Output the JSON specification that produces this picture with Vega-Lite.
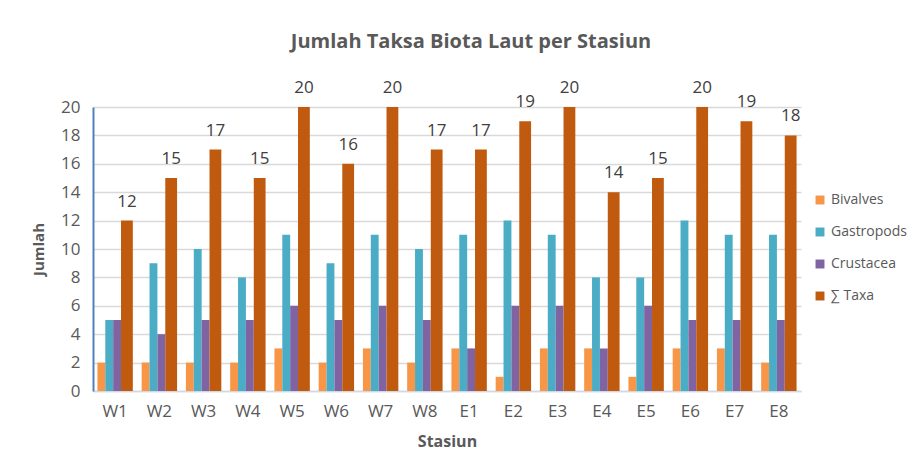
{
  "$schema": "https://vega.github.io/schema/vega-lite/v6.json",
  "width": 708,
  "height": 284,
  "autosize": {"type": "none"},
  "padding": {"left": 93, "top": 107, "right": 121, "bottom": 75},
  "background": "white",
  "config": {
    "font": "Open Sans",
    "view": {"stroke": null},
    "axis": {"labelColor": "#595959", "titleColor": "#595959", "labelFont": "Open Sans", "titleFont": "Open Sans"}
  },
  "title": {
    "text": "Jumlah Taksa Biota Laut per Stasiun",
    "fontSize": 20,
    "fontWeight": "bold",
    "color": "#595959",
    "font": "Open Sans",
    "anchor": "middle",
    "frame": "group",
    "dx": 24,
    "offset": 27
  },
  "data": {
    "values": [
      {"stasiun": "W1", "series": "Bivalves", "value": 2}, {"stasiun": "W1", "series": "Gastropods", "value": 5}, {"stasiun": "W1", "series": "Crustacea", "value": 5}, {"stasiun": "W1", "series": "∑ Taxa", "value": 12},
      {"stasiun": "W2", "series": "Bivalves", "value": 2}, {"stasiun": "W2", "series": "Gastropods", "value": 9}, {"stasiun": "W2", "series": "Crustacea", "value": 4}, {"stasiun": "W2", "series": "∑ Taxa", "value": 15},
      {"stasiun": "W3", "series": "Bivalves", "value": 2}, {"stasiun": "W3", "series": "Gastropods", "value": 10}, {"stasiun": "W3", "series": "Crustacea", "value": 5}, {"stasiun": "W3", "series": "∑ Taxa", "value": 17},
      {"stasiun": "W4", "series": "Bivalves", "value": 2}, {"stasiun": "W4", "series": "Gastropods", "value": 8}, {"stasiun": "W4", "series": "Crustacea", "value": 5}, {"stasiun": "W4", "series": "∑ Taxa", "value": 15},
      {"stasiun": "W5", "series": "Bivalves", "value": 3}, {"stasiun": "W5", "series": "Gastropods", "value": 11}, {"stasiun": "W5", "series": "Crustacea", "value": 6}, {"stasiun": "W5", "series": "∑ Taxa", "value": 20},
      {"stasiun": "W6", "series": "Bivalves", "value": 2}, {"stasiun": "W6", "series": "Gastropods", "value": 9}, {"stasiun": "W6", "series": "Crustacea", "value": 5}, {"stasiun": "W6", "series": "∑ Taxa", "value": 16},
      {"stasiun": "W7", "series": "Bivalves", "value": 3}, {"stasiun": "W7", "series": "Gastropods", "value": 11}, {"stasiun": "W7", "series": "Crustacea", "value": 6}, {"stasiun": "W7", "series": "∑ Taxa", "value": 20},
      {"stasiun": "W8", "series": "Bivalves", "value": 2}, {"stasiun": "W8", "series": "Gastropods", "value": 10}, {"stasiun": "W8", "series": "Crustacea", "value": 5}, {"stasiun": "W8", "series": "∑ Taxa", "value": 17},
      {"stasiun": "E1", "series": "Bivalves", "value": 3}, {"stasiun": "E1", "series": "Gastropods", "value": 11}, {"stasiun": "E1", "series": "Crustacea", "value": 3}, {"stasiun": "E1", "series": "∑ Taxa", "value": 17},
      {"stasiun": "E2", "series": "Bivalves", "value": 1}, {"stasiun": "E2", "series": "Gastropods", "value": 12}, {"stasiun": "E2", "series": "Crustacea", "value": 6}, {"stasiun": "E2", "series": "∑ Taxa", "value": 19},
      {"stasiun": "E3", "series": "Bivalves", "value": 3}, {"stasiun": "E3", "series": "Gastropods", "value": 11}, {"stasiun": "E3", "series": "Crustacea", "value": 6}, {"stasiun": "E3", "series": "∑ Taxa", "value": 20},
      {"stasiun": "E4", "series": "Bivalves", "value": 3}, {"stasiun": "E4", "series": "Gastropods", "value": 8}, {"stasiun": "E4", "series": "Crustacea", "value": 3}, {"stasiun": "E4", "series": "∑ Taxa", "value": 14},
      {"stasiun": "E5", "series": "Bivalves", "value": 1}, {"stasiun": "E5", "series": "Gastropods", "value": 8}, {"stasiun": "E5", "series": "Crustacea", "value": 6}, {"stasiun": "E5", "series": "∑ Taxa", "value": 15},
      {"stasiun": "E6", "series": "Bivalves", "value": 3}, {"stasiun": "E6", "series": "Gastropods", "value": 12}, {"stasiun": "E6", "series": "Crustacea", "value": 5}, {"stasiun": "E6", "series": "∑ Taxa", "value": 20},
      {"stasiun": "E7", "series": "Bivalves", "value": 3}, {"stasiun": "E7", "series": "Gastropods", "value": 11}, {"stasiun": "E7", "series": "Crustacea", "value": 5}, {"stasiun": "E7", "series": "∑ Taxa", "value": 19},
      {"stasiun": "E8", "series": "Bivalves", "value": 2}, {"stasiun": "E8", "series": "Gastropods", "value": 11}, {"stasiun": "E8", "series": "Crustacea", "value": 5}, {"stasiun": "E8", "series": "∑ Taxa", "value": 18}
    ]
  },
  "encoding": {
    "x": {
      "field": "stasiun",
      "type": "nominal",
      "sort": null,
      "scale": {"paddingInner": 0.2, "paddingOuter": 0.1},
      "axis": {
        "title": "Stasiun",
        "labelAngle": 0,
        "labelFontSize": 17,
        "labelPadding": 12,
        "ticks": false,
        "domainColor": "#d0d8e4",
        "domainWidth": 1.5,
        "titleFontSize": 16,
        "titleFontWeight": "bold",
        "titlePadding": 14
      }
    },
    "y": {
      "field": "value",
      "type": "quantitative",
      "scale": {"domain": [0, 20], "nice": false},
      "axis": {
        "title": "Jumlah",
        "values": [0, 2, 4, 6, 8, 10, 12, 14, 16, 18, 20],
        "labelFontSize": 17,
        "labelPadding": 13,
        "ticks": false,
        "gridColor": "#d9d9d9",
        "gridWidth": 1.5,
        "domainColor": "#4f81bd",
        "domainWidth": 2,
        "titleFontSize": 15,
        "titleFontWeight": "bold",
        "titlePadding": 14
      }
    },
    "color": {
      "field": "series",
      "type": "nominal",
      "sort": ["Bivalves", "Gastropods", "Crustacea", "∑ Taxa"],
      "scale": {
        "domain": ["Bivalves", "Gastropods", "Crustacea", "∑ Taxa"],
        "range": ["#f79646", "#4bacc6", "#8064a2", "#c05a0e"]
      },
      "legend": {
        "title": null,
        "orient": "none",
        "legendX": 720,
        "legendY": 86,
        "symbolType": "square",
        "symbolSize": 80,
        "symbolStrokeWidth": 0,
        "labelFontSize": 14,
        "labelColor": "#595959",
        "labelFont": "Open Sans",
        "rowPadding": 18
      }
    }
  },
  "resolve": {"scale": {"xOffset": "independent"}},
  "layer": [
    {
      "transform": [{"filter": "datum.series !== '∑ Taxa'"}],
      "mark": {"type": "bar"},
      "encoding": {
        "xOffset": {
          "field": "series",
          "type": "nominal",
          "scale": {"domain": ["Bivalves", "Gastropods", "Crustacea"], "paddingInner": 0, "paddingOuter": 0.75, "align": 0}
        }
      }
    },
    {
      "transform": [{"filter": "datum.series === '∑ Taxa'"}],
      "encoding": {
        "xOffset": {
          "field": "series",
          "type": "nominal",
          "scale": {"domain": ["∑ Taxa"], "paddingInner": 0, "paddingOuter": 1, "align": 1}
        }
      },
      "layer": [
        {"mark": {"type": "bar"}},
        {
          "mark": {"type": "text", "baseline": "bottom", "dy": -10, "fontSize": 17, "color": "#404040", "font": "Open Sans"},
          "encoding": {
            "text": {"field": "value", "type": "quantitative"},
            "color": {"value": "#404040"}
          }
        }
      ]
    }
  ]
}
